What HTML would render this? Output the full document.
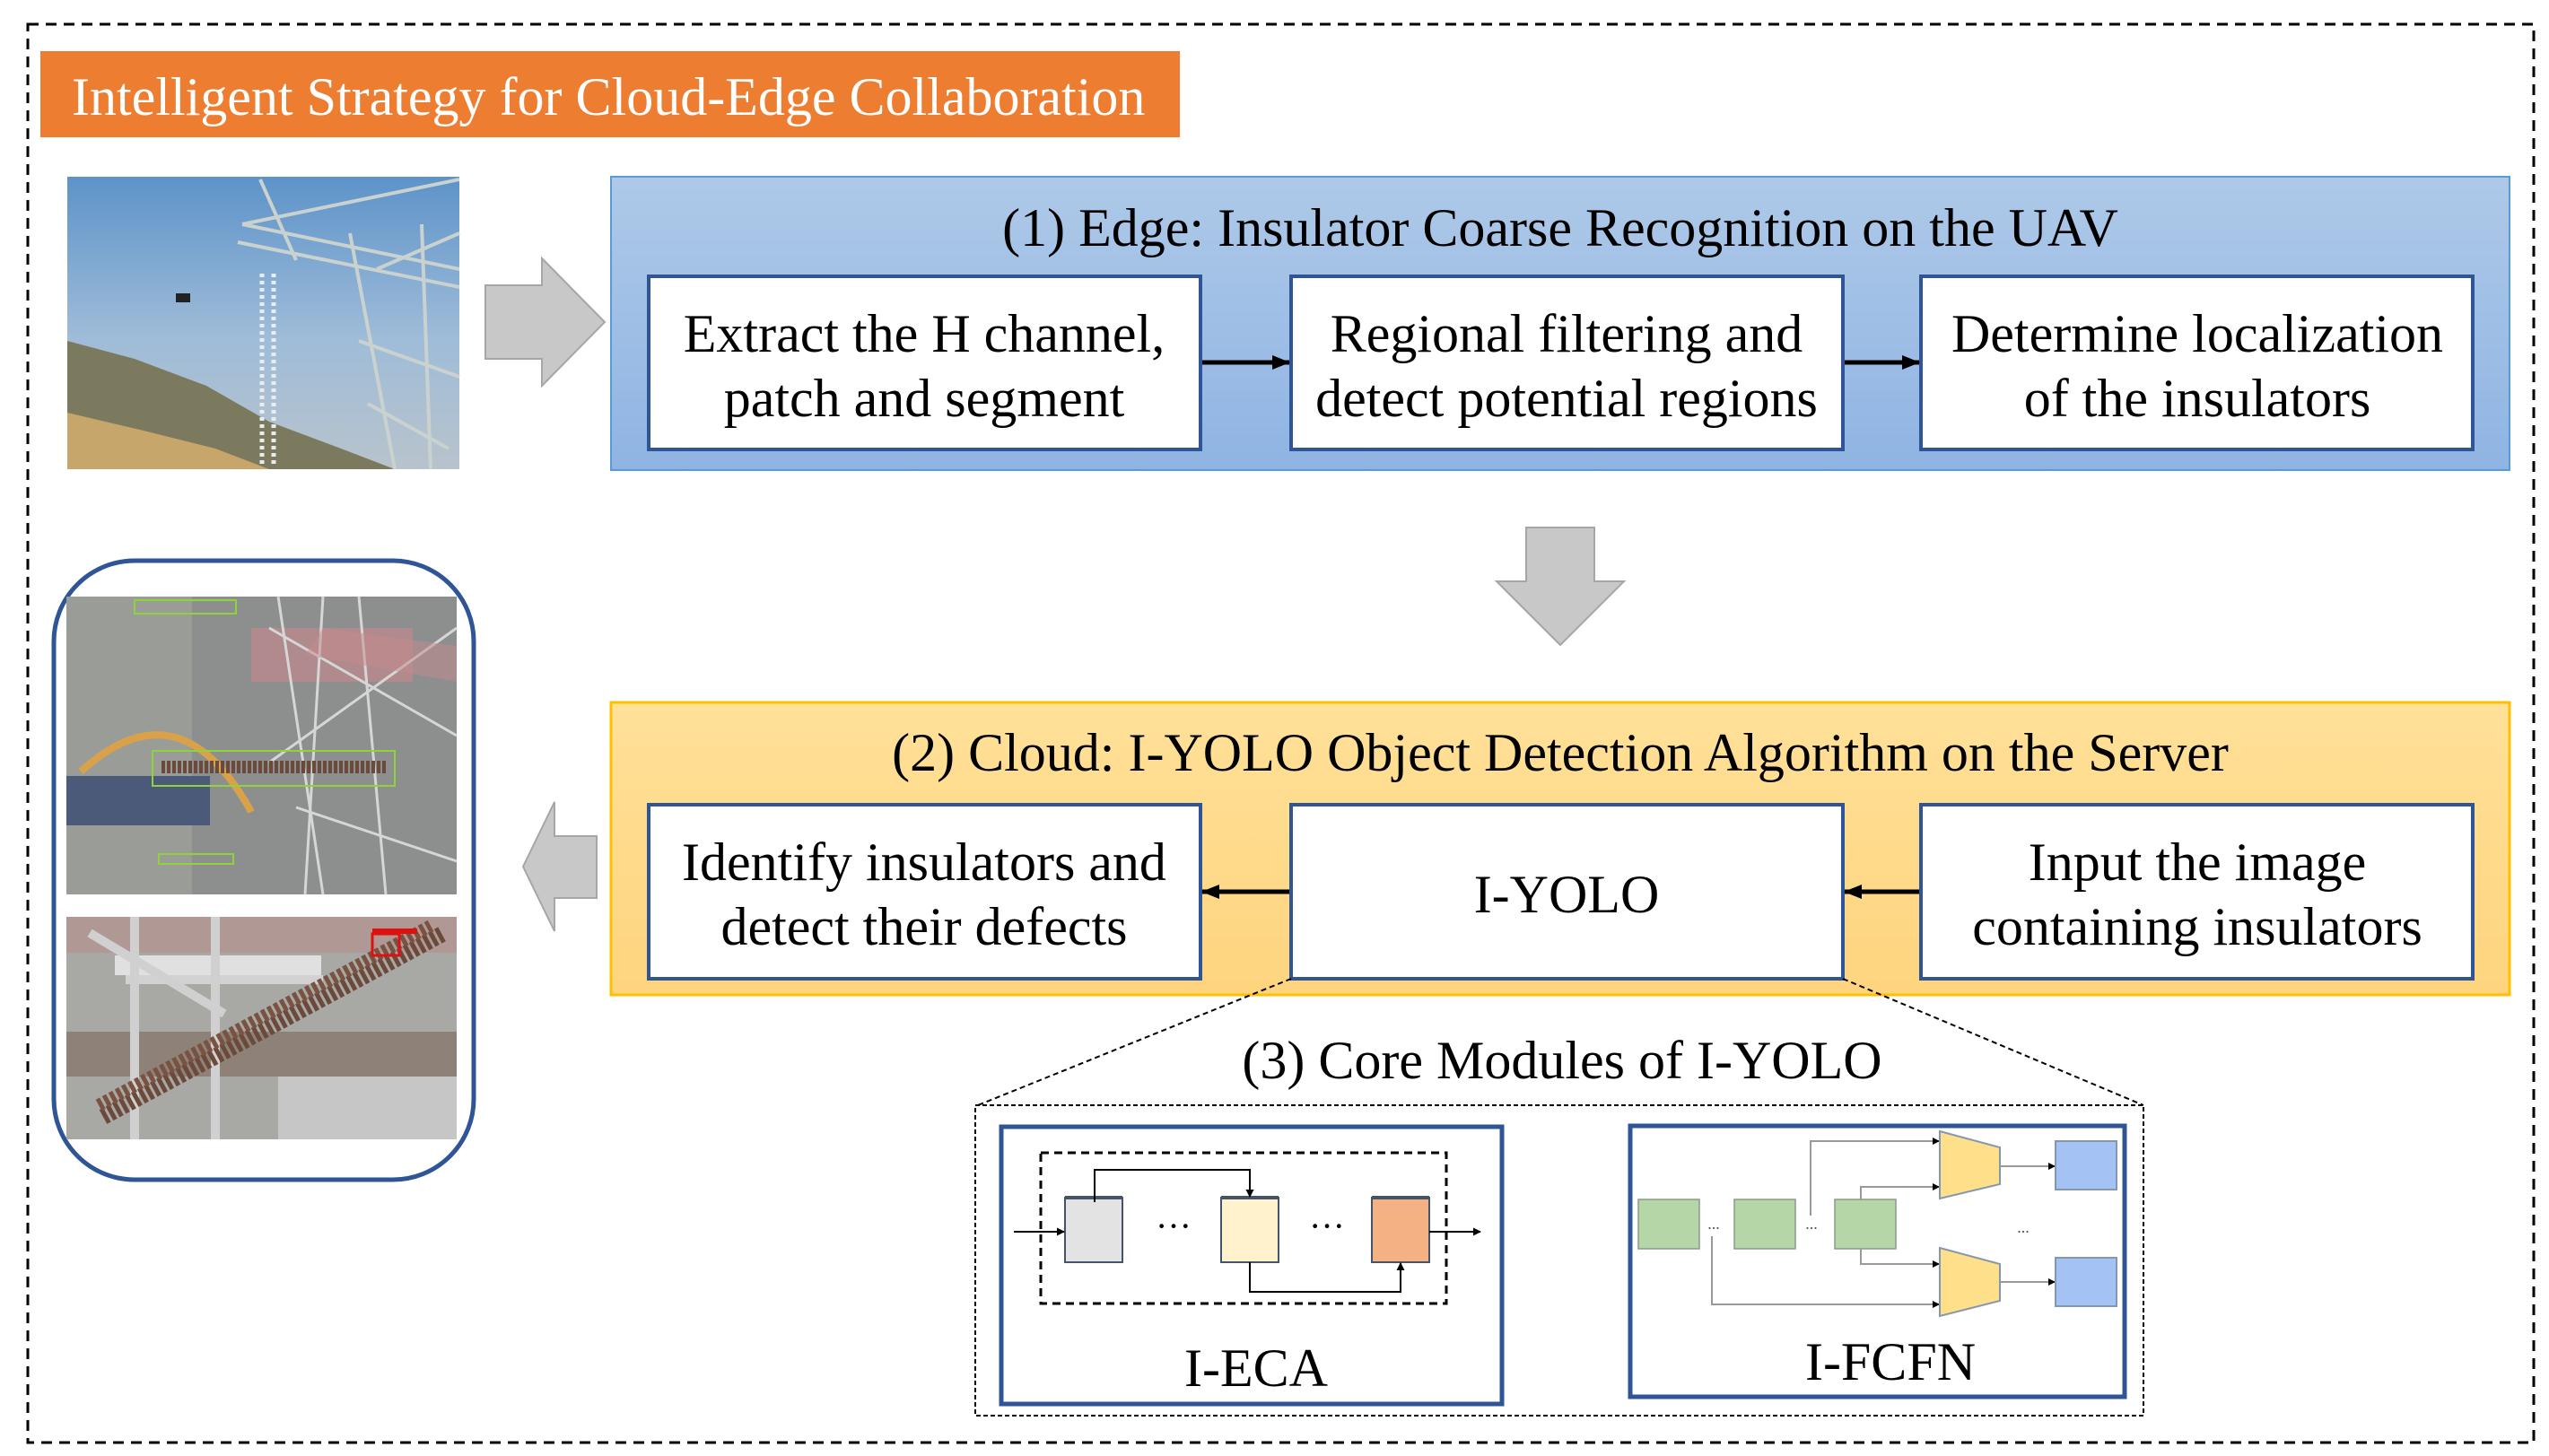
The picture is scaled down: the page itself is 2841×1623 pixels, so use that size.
<!DOCTYPE html>
<html><head><meta charset="utf-8">
<style>
html,body{margin:0;padding:0;background:#fff;}
svg{display:block;}
text{font-family:"Liberation Serif",serif;}
</style></head>
<body>
<svg width="2841" height="1623" viewBox="0 0 2841 1623" xmlns="http://www.w3.org/2000/svg">
<defs>
<marker id="ah" markerWidth="8" markerHeight="8" refX="7" refY="4" orient="auto" markerUnits="userSpaceOnUse">
<path d="M0,0 L8,4 L0,8 Z" fill="#000"/></marker>
<marker id="ahb" markerWidth="20" markerHeight="16" refX="19" refY="8" orient="auto" markerUnits="userSpaceOnUse">
<path d="M0,0 L20,8 L0,16 Z" fill="#000"/></marker>
<marker id="ahs" markerWidth="9" markerHeight="9" refX="8" refY="4.5" orient="auto" markerUnits="userSpaceOnUse">
<path d="M0,0 L9,4.5 L0,9 Z" fill="#000"/></marker>
<linearGradient id="sky" x1="0" y1="0" x2="0" y2="1">
<stop offset="0" stop-color="#5d93c9"/><stop offset="0.55" stop-color="#9fbcd8"/><stop offset="1" stop-color="#b8c3cc"/></linearGradient>
<linearGradient id="blueP" x1="0" y1="0" x2="0" y2="1">
<stop offset="0" stop-color="#aec9e8"/><stop offset="1" stop-color="#8fb4e3"/></linearGradient>
<linearGradient id="yelP" x1="0" y1="0" x2="0" y2="1">
<stop offset="0" stop-color="#ffe199"/><stop offset="1" stop-color="#fed47e"/></linearGradient>
</defs>

<rect x="31" y="27" width="2793" height="1581" fill="none" stroke="#000" stroke-width="3" stroke-dasharray="12,8"/>

<rect x="45" y="57" width="1270" height="96" fill="#ed7d31"/>
<text x="80" y="128" font-size="60" fill="#fff">Intelligent Strategy for Cloud-Edge Collaboration</text>

<rect x="75" y="197" width="437" height="326" fill="url(#sky)"/>
<path d="M75,380 L150,400 L230,430 L300,470 L380,500 L440,523 L75,523 Z" fill="#7c7a5e"/>
<path d="M75,460 L160,480 L240,500 L300,523 L75,523 Z" fill="#c7a66b"/>
<g stroke="#c9d2cf" stroke-width="4" fill="none">
<path d="M270,250 L512,200 M270,250 L512,300 M265,270 L512,320 M390,260 L440,523 M470,250 L480,523 M420,300 L512,260 M400,380 L512,420 M410,450 L500,500 M290,200 L330,290"/>
</g>
<g stroke="#e8eef0" stroke-width="5" stroke-dasharray="4,4">
<path d="M292,305 L292,520 M305,305 L305,520"/></g>
<rect x="196" y="327" width="16" height="10" fill="#222"/>

<polygon points="541,318 604,318 604,288 674,359 604,430 604,400 541,400" fill="#c8c8c8" stroke="#a6a6a6" stroke-width="2"/>

<rect x="681" y="197" width="2116" height="327" fill="url(#blueP)" stroke="#5b9bd5" stroke-width="2"/>
<text x="1739" y="274" font-size="60" text-anchor="middle">(1) Edge: Insulator Coarse Recognition on the UAV</text>
<g fill="#fff" stroke="#2f5597" stroke-width="4">
<rect x="723" y="308" width="615" height="193"/>
<rect x="1439" y="308" width="615" height="193"/>
<rect x="2141" y="308" width="615" height="193"/>
</g>
<g font-size="60" text-anchor="middle">
<text x="1030" y="392">Extract the H channel,</text>
<text x="1030" y="464">patch and segment</text>
<text x="1746" y="392">Regional filtering and</text>
<text x="1746" y="464">detect potential regions</text>
<text x="2449" y="392">Determine localization</text>
<text x="2449" y="464">of the insulators</text>
</g>
<line x1="1340" y1="404" x2="1437" y2="404" stroke="#000" stroke-width="5" marker-end="url(#ahb)"/>
<line x1="2056" y1="404" x2="2139" y2="404" stroke="#000" stroke-width="5" marker-end="url(#ahb)"/>

<polygon points="1701,588 1777,588 1777,648 1810,648 1739,719 1668,648 1701,648" fill="#c8c8c8" stroke="#a6a6a6" stroke-width="2"/>

<rect x="681" y="783" width="2116" height="326" fill="url(#yelP)" stroke="#ffc000" stroke-width="3"/>
<text x="1739" y="859" font-size="60" text-anchor="middle">(2) Cloud: I-YOLO Object Detection Algorithm on the Server</text>
<g fill="#fff" stroke="#2f5597" stroke-width="4">
<rect x="723" y="897" width="615" height="194"/>
<rect x="1439" y="897" width="615" height="194"/>
<rect x="2141" y="897" width="615" height="194"/>
</g>
<g font-size="60" text-anchor="middle">
<text x="1030" y="981">Identify insulators and</text>
<text x="1030" y="1053">detect their defects</text>
<text x="1746" y="1017">I-YOLO</text>
<text x="2449" y="981">Input the image</text>
<text x="2449" y="1053">containing insulators</text>
</g>
<line x1="1437" y1="994" x2="1340" y2="994" stroke="#000" stroke-width="5" marker-end="url(#ahb)"/>
<line x1="2139" y1="994" x2="2056" y2="994" stroke="#000" stroke-width="5" marker-end="url(#ahb)"/>

<polygon points="665,932 618,932 618,894 583,966 618,1038 618,1001 665,1001" fill="#c8c8c8" stroke="#a6a6a6" stroke-width="2"/>

<rect x="60" y="625" width="468" height="690" rx="90" ry="90" fill="#fff" stroke="#2f5597" stroke-width="5"/>
<rect x="74" y="665" width="435" height="332" fill="#8c8f8e"/>
<rect x="74" y="665" width="140" height="332" fill="#9a9c98"/>
<rect x="74" y="865" width="160" height="55" fill="#4b5a78"/>
<path d="M90,860 Q200,760 280,905" stroke="#d9a24a" stroke-width="8" fill="none"/>
<rect x="280" y="700" width="180" height="60" fill="#b08a8c"/>
<g stroke="#d6d6d6" stroke-width="3" fill="none">
<path d="M310,665 L360,997 M360,665 L340,997 M400,665 L430,997 M300,700 L509,820 M509,700 L300,850 M330,900 L509,960"/></g>
<path d="M360,700 L509,720 L509,760 L340,730 Z" fill="#c48a8e" opacity="0.5"/>
<rect x="170" y="837" width="270" height="39" fill="none" stroke="#8cd43a" stroke-width="2"/>
<line x1="180" y1="855" x2="430" y2="855" stroke="#6b4a3c" stroke-width="14" stroke-dasharray="4,2"/>
<rect x="150" y="669" width="113" height="15" fill="none" stroke="#8cd43a" stroke-width="2"/>
<rect x="177" y="952" width="83" height="11" fill="none" stroke="#8cd43a" stroke-width="2"/>

<rect x="74" y="1022" width="435" height="248" fill="#a8a8a4"/>
<rect x="74" y="1022" width="435" height="40" fill="#b09894"/>
<rect x="74" y="1150" width="435" height="50" fill="#8e8278"/>
<rect x="310" y="1200" width="199" height="70" fill="#c6c6c6"/>
<rect x="128" y="1065" width="230" height="22" fill="#e0e0e0"/>
<rect x="140" y="1087" width="220" height="10" fill="#d2d2d2"/>
<g stroke="#d0d0d0" stroke-width="10"><path d="M150,1022 L150,1270 M240,1022 L240,1270 M100,1040 L250,1130"/></g>
<line x1="115" y1="1245" x2="495" y2="1040" stroke="#6b4a3c" stroke-width="18" stroke-dasharray="5,3"/>
<line x1="110" y1="1232" x2="480" y2="1032" stroke="#7a5242" stroke-width="14" stroke-dasharray="5,3"/>
<rect x="415" y="1041" width="30" height="24" fill="none" stroke="#e01010" stroke-width="3"/>
<rect x="415" y="1035" width="50" height="6" fill="#e01010"/>

<text x="1741" y="1202" font-size="60" text-anchor="middle">(3) Core Modules of I-YOLO</text>
<line x1="1439" y1="1091" x2="1090" y2="1232" stroke="#000" stroke-width="2" stroke-dasharray="6,4"/>
<line x1="2054" y1="1091" x2="2389" y2="1232" stroke="#000" stroke-width="2" stroke-dasharray="6,4"/>
<rect x="1087" y="1232" width="1302" height="346" fill="none" stroke="#000" stroke-width="2" stroke-dasharray="5,3"/>

<rect x="1116" y="1256" width="558" height="309" fill="#fff" stroke="#2f5597" stroke-width="5"/>
<rect x="1160" y="1285" width="452" height="168" fill="none" stroke="#000" stroke-width="3" stroke-dasharray="9,6"/>
<rect x="1187" y="1335" width="64" height="72" fill="#e3e3e3" stroke="#44546a" stroke-width="2"/>
<rect x="1361" y="1335" width="64" height="72" fill="#fff2cc" stroke="#44546a" stroke-width="2"/>
<rect x="1529" y="1335" width="64" height="72" fill="#f4b183" stroke="#44546a" stroke-width="2"/>
<line x1="1187" y1="1335" x2="1251" y2="1335" stroke="#44546a" stroke-width="4"/>
<line x1="1361" y1="1335" x2="1425" y2="1335" stroke="#44546a" stroke-width="4"/>
<line x1="1529" y1="1335" x2="1593" y2="1335" stroke="#44546a" stroke-width="4"/>
<text x="1308" y="1380" font-size="40" text-anchor="middle">···</text>
<text x="1479" y="1380" font-size="40" text-anchor="middle">···</text>
<line x1="1130" y1="1373" x2="1186" y2="1373" stroke="#000" stroke-width="2" marker-end="url(#ahs)"/>
<line x1="1593" y1="1373" x2="1650" y2="1373" stroke="#000" stroke-width="2" marker-end="url(#ahs)"/>
<polyline points="1220,1340 1220,1304 1393,1304 1393,1334" fill="none" stroke="#000" stroke-width="2" marker-end="url(#ahs)"/>
<polyline points="1393,1407 1393,1440 1561,1440 1561,1408" fill="none" stroke="#000" stroke-width="2" marker-end="url(#ahs)"/>
<text x="1400" y="1545" font-size="60" text-anchor="middle">I-ECA</text>

<rect x="1817" y="1255" width="551" height="302" fill="#fff" stroke="#2f5597" stroke-width="5"/>
<g fill="#b5d6a7" stroke="#8a9a8a" stroke-width="1.5">
<rect x="1826" y="1337" width="68" height="55"/>
<rect x="1933" y="1337" width="68" height="55"/>
<rect x="2045" y="1337" width="68" height="55"/>
</g>
<g font-size="18" text-anchor="middle" fill="#555"><text x="1910" y="1370">...</text><text x="2019" y="1370">...</text><text x="2255" y="1374">...</text></g>
<g fill="none" stroke="#999" stroke-width="2">
<polyline points="2018,1355 2018,1272 2161,1272" marker-end="url(#ah)"/>
<polyline points="2074,1337 2074,1323 2161,1323" marker-end="url(#ah)"/>
<polyline points="2074,1392 2074,1409 2161,1409" marker-end="url(#ah)"/>
<polyline points="1908,1378 1908,1454 2161,1454" marker-end="url(#ah)"/>
<line x1="2229" y1="1300" x2="2290" y2="1300" marker-end="url(#ah)"/>
<line x1="2229" y1="1429" x2="2290" y2="1429" marker-end="url(#ah)"/>
</g>
<polygon points="2162,1261 2229,1279 2229,1320 2162,1336" fill="#ffe08a" stroke="#8497b0" stroke-width="2"/>
<polygon points="2162,1391 2229,1409 2229,1450 2162,1467" fill="#ffe08a" stroke="#8497b0" stroke-width="2"/>
<rect x="2291" y="1272" width="68" height="54" fill="#a4c2f4" stroke="#8497b0" stroke-width="2"/>
<rect x="2291" y="1402" width="68" height="54" fill="#a4c2f4" stroke="#8497b0" stroke-width="2"/>
<text x="2107" y="1538" font-size="60" text-anchor="middle">I-FCFN</text>
</svg>
</body></html>
